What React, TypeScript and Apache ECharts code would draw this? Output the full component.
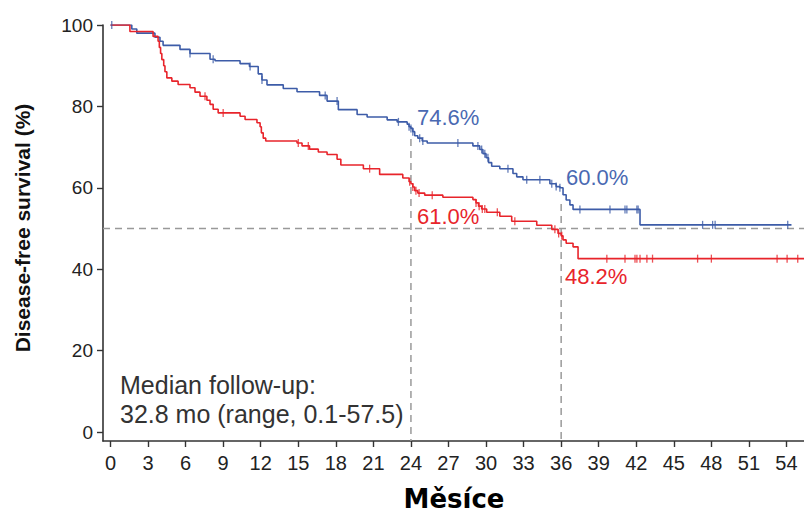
import React, { useEffect, useRef } from "react";
import * as echarts from "echarts";

// Kaplan–Meier step data (time in months, survival %)
const blueTimes = [0, 1.7, 2.1, 3.55, 3.95, 4.2, 5.55, 6.35, 7.95, 8.35, 10.35, 11.1, 11.8, 12.1, 12.5, 13.8, 14.9, 16.7, 17.3, 18.2, 19.7, 20.5, 22.1, 22.9, 23.7, 23.85, 24.0, 24.15, 24.3, 24.55, 24.9, 25.3, 28.95, 29.5, 29.75, 30.0, 30.2, 30.45, 31.1, 32.15, 32.45, 32.95, 35.1, 35.6, 35.9, 36.15, 36.4, 36.7, 36.95, 42.3];
const blueSurv = [100, 99, 98, 97, 96, 95, 94, 93, 91.6, 91.2, 90.5, 89.8, 88, 86.5, 85.3, 84.4, 83.6, 82.7, 81.3, 79.2, 78.0, 77.4, 76.7, 76.2, 75.6, 75.0, 74.6, 73.8, 72.8, 72.2, 71.5, 71.0, 70.3, 69.4, 68.4, 67.4, 66.2, 65.3, 64.7, 63.5, 62.7, 62.0, 61.0, 60.3, 60.0, 58.3, 57.0, 55.8, 54.7, 50.9];
const blueEnd = 54.4;
const blueCensor = [0.1, 6.35, 8.2, 11.15, 12.1, 17.15, 18.1, 23.0, 23.85, 24.0, 24.15, 24.7, 24.95, 27.75, 29.35, 29.65, 29.9, 30.15, 31.75, 33.25, 34.3, 35.25, 35.6, 35.9, 37.5, 39.9, 41.1, 41.25, 42.05, 42.15, 47.3, 48.1, 48.3, 54.1];

const redTimes = [0, 1.55, 3.4, 3.8, 3.9, 4.0, 4.1, 4.25, 4.35, 4.5, 4.9, 5.4, 6.35, 6.75, 7.15, 7.7, 7.95, 8.2, 8.6, 10.35, 10.75, 11.7, 11.95, 12.05, 12.2, 12.4, 14.9, 15.3, 15.9, 16.6, 17.3, 18.1, 18.4, 20.2, 21.5, 23.35, 23.85, 24.0, 24.15, 24.3, 24.55, 25.1, 26.55, 28.95, 29.2, 29.4, 29.65, 30.05, 31.1, 32.05, 34.05, 35.25, 35.75, 36.0, 36.15, 36.4, 36.95, 37.35];
const redSurv = [100, 98.4, 97.2, 96, 94.5, 93, 91.5, 90, 88.5, 87, 86.2, 85.4, 84.6, 83.5, 82.5, 81.5, 80.5, 79.3, 78.4, 77.6, 76.8, 76.0, 75.0, 73.5, 72.2, 71.5, 71.0, 70.3, 69.5, 68.8, 68.2, 67.0, 65.6, 64.7, 63.3, 62.4, 61.5, 61.0, 60.2, 59.3, 58.7, 58.2, 57.7, 57.1, 56.3, 55.5, 54.8, 54.0, 53.0, 51.8, 50.8, 49.8, 48.8, 48.2, 47.2, 46.4, 45.5, 42.6];
const redEnd = 55.4;
const redCensor = [7.55, 9.0, 15.0, 15.8, 20.7, 23.9, 24.15, 24.4, 24.65, 25.7, 29.2, 29.45, 29.7, 29.9, 30.9, 32.3, 35.5, 35.8, 36.05, 39.65, 41.1, 41.9, 42.05, 42.3, 42.85, 43.3, 46.9, 48.0, 53.25, 54.05, 54.9];

const xTicks = [0, 3, 6, 9, 12, 15, 18, 21, 24, 27, 30, 33, 36, 39, 42, 45, 48, 51, 54];
const yTicks = [0, 20, 40, 60, 80, 100];
const landmarks = [24, 36];
const blueLandmarkTop = [72, 56];
const medianLine = 50;
const pctLabels = ["74.6%", "60.0%", "61.0%", "48.2%"];

const BLUE = "#3d5ca8";
const BLUE_TXT = "#4a69b2";
const RED = "#e8242b";
const AXIS = "#333333";

const X_MIN = -0.6;
const X_MAX = 55.4;
const Y_MIN = -2.2;
const Y_MAX = 100;

function stepData(times: number[], surv: number[], end: number) {
  const d = times.map((t, i) => [t, surv[i]]);
  d.push([end, surv[surv.length - 1]]);
  return d;
}
function survAt(times: number[], surv: number[], t: number) {
  let v = surv[0];
  for (let i = 0; i < times.length; i++) if (times[i] <= t) v = surv[i];
  return v;
}

export default function App() {
  const ref = useRef<HTMLDivElement>(null);
  useEffect(() => {
    document.body.style.margin = "0";
    if (!ref.current) return;
    const chart = echarts.init(ref.current, null, { renderer: "svg" });
    const dashStyle = { color: "#999999", width: 1.5, type: [7, 5] as any };
    const font = "Liberation Sans, Arial, sans-serif";
    const option: any = {
      animation: false,
      backgroundColor: "#ffffff",
      grid: { left: 103, right: 0, top: 25, bottom: 74, containLabel: false, outerBoundsMode: "none" },
      xAxis: {
        type: "value",
        min: X_MIN,
        max: X_MAX,
        splitLine: { show: false },
        axisLine: { show: true, onZero: false, lineStyle: { color: AXIS, width: 1.6 } },
        axisTick: { show: true, customValues: xTicks, length: 6, lineStyle: { color: AXIS, width: 1.4 } },
        axisLabel: { customValues: xTicks, fontSize: 20, color: "#222", margin: 12, fontFamily: font },
      },
      yAxis: {
        type: "value",
        min: Y_MIN,
        max: Y_MAX,
        splitLine: { show: false },
        axisLine: { show: true, onZero: false, lineStyle: { color: AXIS, width: 1.6 } },
        axisTick: { show: true, customValues: yTicks, length: 6, lineStyle: { color: AXIS, width: 1.4 } },
        axisLabel: { customValues: yTicks, fontSize: 19, color: "#222", margin: 10, fontFamily: font },
      },
      series: [
        {
          type: "line",
          data: [[X_MIN, medianLine], [X_MAX, medianLine]],
          symbol: "none",
          lineStyle: dashStyle,
          silent: true,
          z: 1,
        },
        ...landmarks.map((t, i) => ({
          type: "line",
          data: [[t, blueLandmarkTop[i]], [t, Y_MIN]],
          symbol: "none",
          lineStyle: dashStyle,
          silent: true,
          z: 1,
        })),
        {
          type: "line",
          step: "end",
          data: stepData(blueTimes, blueSurv, blueEnd),
          symbol: "none",
          lineStyle: { color: BLUE, width: 1.6 },
          z: 3,
        },
        {
          type: "line",
          step: "end",
          data: stepData(redTimes, redSurv, redEnd),
          symbol: "none",
          lineStyle: { color: RED, width: 1.6 },
          z: 3,
        },
        {
          type: "scatter",
          data: blueCensor.map((t) => [t, survAt(blueTimes, blueSurv, t)]),
          symbol: "rect",
          symbolSize: [1.3, 8],
          itemStyle: { color: BLUE },
          z: 4,
        },
        {
          type: "scatter",
          data: redCensor.map((t) => [t, survAt(redTimes, redSurv, t)]),
          symbol: "rect",
          symbolSize: [1.3, 8],
          itemStyle: { color: RED },
          z: 4,
        },
      ],
      graphic: [
        {
          type: "text",
          x: 22,
          y: 228,
          rotation: Math.PI / 2,
          style: {
            text: "Disease-free survival (%)",
            fontSize: 21,
            fontWeight: "bold",
            fontFamily: font,
            fill: "#111",
            align: "center",
            verticalAlign: "middle",
          },
        },
        {
          type: "text",
          x: 454,
          y: 499,
          style: {
            text: "Měsíce",
            fontSize: 26,
            fontWeight: "bold",
            fontFamily: "DejaVu Sans, sans-serif",
            fill: "#000",
            align: "center",
            verticalAlign: "middle",
          },
        },
        {
          type: "text",
          x: 120,
          y: 385,
          style: { text: "Median follow-up:", fontSize: 25, fontFamily: font, fill: "#333", align: "left", verticalAlign: "middle" },
        },
        {
          type: "text",
          x: 120,
          y: 414,
          style: { text: "32.8 mo (range, 0.1-57.5)", fontSize: 25, fontFamily: font, fill: "#333", align: "left", verticalAlign: "middle" },
        },
        {
          type: "text", x: 417, y: 117,
          style: { text: pctLabels[0], fontSize: 22, fontFamily: font, fill: BLUE_TXT, align: "left", verticalAlign: "middle" },
        },
        {
          type: "text", x: 566, y: 177,
          style: { text: pctLabels[1], fontSize: 22, fontFamily: font, fill: BLUE_TXT, align: "left", verticalAlign: "middle" },
        },
        {
          type: "text", x: 417, y: 216,
          style: { text: pctLabels[2], fontSize: 22, fontFamily: font, fill: RED, align: "left", verticalAlign: "middle" },
        },
        {
          type: "text", x: 565, y: 276,
          style: { text: pctLabels[3], fontSize: 22, fontFamily: font, fill: RED, align: "left", verticalAlign: "middle" },
        },
      ],
    };
    chart.setOption(option);
    return () => chart.dispose();
  }, []);
  return <div ref={ref} style={{ width: 804, height: 515 }} />;
}
